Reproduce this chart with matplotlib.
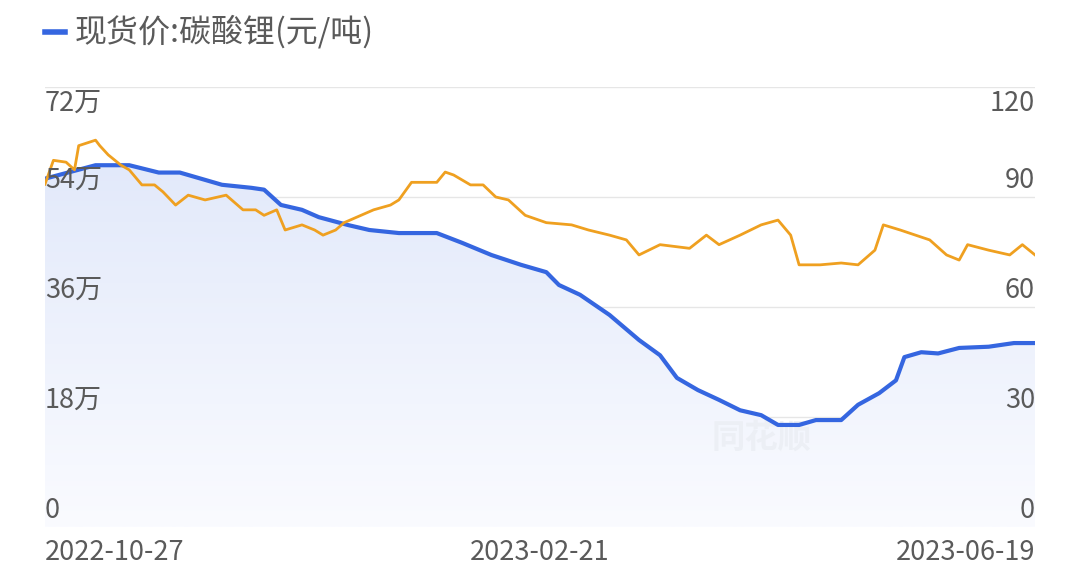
import matplotlib
matplotlib.use("Agg")
import matplotlib.pyplot as plt
import numpy as np
from matplotlib.path import Path
from matplotlib.patches import PathPatch
from matplotlib.colors import LinearSegmentedColormap

plt.rcParams['font.family'] = ['Noto Sans CJK SC', 'DejaVu Sans']

blue_day = [0,12,20,27,32,37,42,49,52,56,61,65,72,77,84,93,99,106,113,119,122,127,134,141,146,150,155,160,165,170,174,179,183,189,193,198,202,204,208,212,217,224,227,230,235]
blue_val = [57,59.2,59.2,58,58,57,56,55.5,55.2,52.7,51.9,50.7,49.4,48.6,48.1,48.1,46.5,44.5,42.9,41.7,39.6,38,34.7,30.6,28.1,24.4,22.4,20.8,19.1,18.3,16.7,16.7,17.5,17.5,20,21.9,24,27.8,28.6,28.4,29.3,29.5,29.8,30.1,30.1]
org_day = [0,2,5,7,8,12,13,15,18,20,23,26,28,31,34,38,43,47,50,52,55,57,61,64,66,69,71,75,78,82,84,87,93,95,97,101,104,107,110,114,119,125,129,134,138,141,146,153,157,160,165,170,174,177,179,184,189,193,197,199,203,210,214,217,219,224,229,232,235]
org_val = [93.5,100,99.5,97.4,104,105.5,104,101.5,98.7,97.4,93.3,93.3,91.4,87.8,90.5,89.2,90.5,86.5,86.5,85,86.5,81,82.4,81,79.6,81,83,85,86.5,87.8,89.2,94,94,96.8,96,93.3,93.3,90,89.2,85,83,82.4,81,79.6,78.3,74.2,77,76,79.6,77,79.6,82.4,83.7,79.6,71.5,71.5,72,71.5,75.5,82.4,81,78.3,74.2,72.8,77,75.5,74.2,77,74.2]
x_labels = ['2022-10-27', '2023-02-21', '2023-06-19']
left_ticks = ['0', '18万', '36万', '54万', '72万']
right_ticks = ['0', '30', '60', '90', '120']
legend_label = '现货价:碳酸锂(元/吨)'

fig = plt.figure(figsize=(10.8, 5.81), dpi=100)
ax = fig.add_axes([45/1080, 54/581, 990/1080, 440/581])
ax.set_xlim(0, 235)
ax.set_ylim(0, 72)
for v in [0, 18, 36, 54, 72]:
    ax.axhline(v, color='#e6e6e6', lw=1, zorder=0)

bd = np.array(blue_day, float); bv = np.array(blue_val, float)
grad = np.linspace(0, 1, 256).reshape(-1, 1)
cmap = LinearSegmentedColormap.from_list('g', ['#fafbff', '#e2e9fa'])
im = ax.imshow(grad, extent=[0, 235, 0, 60], origin='lower', aspect='auto', cmap=cmap, zorder=1)
verts = [(bd[0], 0)] + list(zip(bd, bv)) + [(bd[-1], 0)]
poly = PathPatch(Path(verts), facecolor='none', edgecolor='none')
ax.add_patch(poly)
im.set_clip_path(poly)
ax.text(170, 14.5, '同花顺', fontsize=24, color='#eceff5', ha='center', va='center', zorder=2, fontweight='bold', style='italic')
ax.plot(bd, bv, color='#3566e0', lw=3, zorder=4, solid_capstyle='round')

# orange series on the right-hand scale (0-120), mapped onto the shared axes
scale = 72 / 120
ax.plot(org_day, np.array(org_val) * scale, color='#efa020', lw=2, zorder=5)

for s in ax.spines.values():
    s.set_visible(False)
ax.set_xticks([]); ax.set_yticks([])

tc = '#5a5a5a'
fs = 19.5
for i, t in enumerate(left_ticks):
    if i == 4:
        ax.text(0, 72 - 0.5, t, fontsize=fs, color=tc, ha='left', va='top', zorder=6)
    else:
        ax.text(0, i*18 + 0.5, t, fontsize=fs, color=tc, ha='left', va='bottom', zorder=6)
for i, t in enumerate(right_ticks):
    if i == 4:
        ax.text(235, 72 - 0.5, t, fontsize=fs, color=tc, ha='right', va='top', zorder=6)
    else:
        ax.text(235, i*18 + 0.5, t, fontsize=fs, color=tc, ha='right', va='bottom', zorder=6)
for xp, t, ha in zip([0, 117.5, 235], x_labels, ['left', 'center', 'right']):
    ax.text(xp, -2.0, t, fontsize=fs, color=tc, ha=ha, va='top')

fig.lines.append(plt.Line2D([45/1080, 65/1080], [1-32/581, 1-32/581], color='#3566e0', lw=4, transform=fig.transFigure))
fig.text(75/1080, 1-32/581, legend_label, fontsize=23, color='#5a5a5a', va='center')
fig.savefig('out.png', dpi=100)
